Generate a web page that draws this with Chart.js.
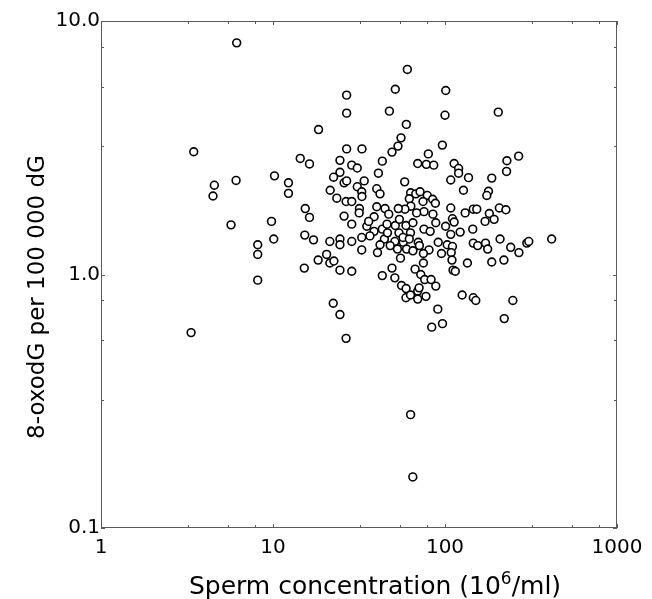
<!DOCTYPE html>
<html>
<head>
<meta charset="utf-8">
<script src="https://cdn.jsdelivr.net/npm/chart.js@4.4.1/dist/chart.umd.min.js"></script>
<style>
  body { margin: 0; background: #fff; }
  canvas { display: block; }
</style>
</head>
<body>
<canvas id="scatter" width="652" height="599"></canvas>
<script>
// sperm concentration (10^6/ml)
const spermConc = [
  6.15, 3.46, 4.56, 4.48, 6.1, 10.2, 12.3, 12.3, 5.7, 9.8,
  10.1, 8.15, 8.15, 8.15, 3.34, 60.4, 26.8, 51.4, 101, 26.8,
  47.5, 100, 59.6, 18.4, 55.5, 53.3, 49.2, 26.8, 32.9, 96.5,
  14.4, 16.3, 24.5, 28.7, 30.9, 24.5, 22.5, 25.9, 26.8, 33.9,
  21.5, 23.5, 26.6, 28.7, 30.9, 32.8, 32.9, 41.0, 43.2, 40.1,
  41.9, 15.4, 16.3, 58.3, 69.4, 80.0, 77.9, 86.0, 63.1, 67.6,
  71.6, 78.9, 62.0, 84.8, 74.5, 87.9, 63.3, 58.5, 75.5, 85.1,
  108, 113, 120, 120, 108, 128, 137, 131, 44.8, 47.1,
  53.5, 40.1, 31.8, 31.7, 25.9, 38.7, 15.3, 17.2, 21.4, 24.5,
  24.5, 28.7, 32.8, 32.8, 20.5, 18.3, 21.4, 22.6, 15.2, 24.5,
  28.7, 28.7, 35.1, 38.7, 43.2, 44.4, 41.9, 40.5, 51.4, 54.0,
  59.3, 65.1, 63.0, 51.1, 52.9, 57.2, 59.8, 65.1, 55.1, 69.9,
  75.5, 88.4, 80.7, 74.9, 74.9, 91.3, 100.8, 110.5, 113, 108,
  103, 110.5, 108.7, 109.8, 95.4, 111.4, 114.8, 122.5, 135, 49.2,
  43.2, 51.1, 55.9, 59.4, 59.3, 63.0, 69.4, 69.4, 77.5, 67.0,
  72.3, 76.2, 83.0, 88.4, 70.7, 90.8, 83.7, 96.7, 125.8, 22.4,
  24.5, 26.6, 63.1, 65, 204, 268, 229, 228, 187, 179,
  175, 146, 153, 181, 207, 226, 171, 193, 145, 146,
  155, 172, 177, 209, 241, 269, 299, 307, 417, 187,
  220, 146, 151, 248, 221, 36.6, 46.3, 68.4, 54.3, 36.0,
  46.0, 57.0, 71.0, 82.0, 48.0, 62.0
];

// 8-oxodG per 100 000 dG
const oxodG = [
  8.2, 3.05, 2.25, 2.04, 2.35, 2.45, 2.30, 2.09, 1.57, 1.62,
  1.38, 1.31, 1.20, 0.95, 0.59, 6.44, 5.10, 5.38, 5.32, 4.33,
  4.41, 4.25, 3.91, 3.73, 3.46, 3.21, 3.04, 3.13, 3.13, 3.24,
  2.87, 2.73, 2.82, 2.70, 2.63, 2.53, 2.42, 2.30, 2.34, 2.34,
  2.15, 2.00, 1.94, 1.94, 2.22, 2.12, 2.03, 2.51, 2.80, 2.18,
  2.08, 1.82, 1.68, 2.32, 2.74, 2.99, 2.72, 2.70, 2.10, 2.08,
  2.12, 2.05, 1.99, 1.98, 1.94, 1.91, 1.86, 1.81, 1.77, 1.73,
  1.83, 2.74, 2.62, 2.51, 2.36, 2.15, 2.41, 1.75, 1.82, 1.73,
  1.82, 1.85, 1.82, 1.75, 1.70, 1.69, 1.43, 1.37, 1.35, 1.38,
  1.31, 1.35, 1.40, 1.25, 1.20, 1.14, 1.11, 1.13, 1.06, 1.04,
  1.03, 1.58, 1.55, 1.48, 1.51, 1.38, 1.31, 1.22, 1.56, 1.46,
  1.56, 1.60, 1.46, 1.35, 1.26, 1.34, 1.26, 1.24, 1.16, 1.34,
  1.51, 1.60, 1.25, 1.21, 1.11, 1.34, 1.55, 1.66, 1.61, 1.44,
  1.31, 1.29, 1.22, 1.14, 1.21, 1.04, 1.03, 1.47, 1.11, 1.06,
  0.99, 0.97, 0.905, 0.88, 0.81, 0.83, 0.86, 0.80, 0.82, 1.05,
  1.00, 0.955, 0.955, 0.90, 0.886, 0.73, 0.62, 0.64, 0.83, 0.77,
  0.695, 0.56, 0.28, 0.159, 4.37, 2.93, 2.81, 2.55, 2.40, 2.13,
  2.05, 1.81, 1.81, 1.74, 1.83, 1.80, 1.62, 1.65, 1.51, 1.33,
  1.30, 1.33, 1.26, 1.38, 1.28, 1.22, 1.33, 1.35, 1.38, 1.12,
  1.14, 0.81, 0.79, 0.79, 0.67, 1.42, 1.46, 1.75, 1.65, 1.62,
  1.58, 1.40, 1.30, 1.48, 1.30, 1.38
];

const xTicks = [1, 10, 100, 1000];
const xTickLabels = ["1", "10", "100", "1000"];
const yTicks = [0.1, 1, 10];
const yTickLabels = ["0.1", "1.0", "10.0"];
const minorSteps = [3.2, 5.5, 7.9];

const xTitleParts = ["Sperm concentration (10", "6", "/ml)"];
const yTitle = "8-oxodG per 100 000 dG";

const points = spermConc.map((x, i) => ({ x: x, y: oxodG[i] }));
const FONT = "'DejaVu Sans', sans-serif";
const AXIS_COLOR = "#5a5a5a";

// frame, inward ticks and axis titles
const framePlugin = {
  id: "frame",
  afterDraw(chart) {
    const { ctx, chartArea: a, scales } = chart;
    const xs = scales.x, ys = scales.y;
    ctx.save();
    ctx.strokeStyle = AXIS_COLOR;
    ctx.lineWidth = 1;
    ctx.strokeRect(a.left + 0.5, a.top + 0.5, a.right - a.left - 1, a.bottom - a.top - 1);

    const tick = (x1, y1, x2, y2) => {
      ctx.beginPath();
      ctx.moveTo(x1, y1);
      ctx.lineTo(x2, y2);
      ctx.stroke();
    };
    const allX = [], allY = [];
    [1, 10, 100].forEach(d => { allX.push([d, 4]); minorSteps.forEach(m => allX.push([d * m, 3])); });
    allX.push([1000, 4]);
    [0.1, 1].forEach(d => { allY.push([d, 4]); minorSteps.forEach(m => allY.push([d * m, 3])); });
    allY.push([10, 4]);

    allX.forEach(([v, len]) => {
      const px = Math.round(xs.getPixelForValue(v)) + 0.5;
      tick(px, a.bottom, px, a.bottom - len);
      tick(px, a.top, px, a.top + len);
    });
    allY.forEach(([v, len]) => {
      const py = Math.round(ys.getPixelForValue(v)) + 0.5;
      tick(a.left, py, a.left + len, py);
      tick(a.right, py, a.right - len, py);
    });

    // x title with superscript
    ctx.fillStyle = "#000";
    ctx.textBaseline = "alphabetic";
    ctx.textAlign = "left";
    const bigFont = "25px " + FONT, supFont = "17px " + FONT;
    ctx.font = bigFont;
    const w1 = ctx.measureText(xTitleParts[0]).width;
    const w3 = ctx.measureText(xTitleParts[2]).width;
    ctx.font = supFont;
    const w2 = ctx.measureText(xTitleParts[1]).width;
    let tx = 375 - (w1 + w2 + w3) / 2;
    const base = 594;
    ctx.font = bigFont;
    ctx.fillText(xTitleParts[0], tx, base);
    tx += w1;
    ctx.font = supFont;
    ctx.fillText(xTitleParts[1], tx, base - 10);
    tx += w2;
    ctx.font = bigFont;
    ctx.fillText(xTitleParts[2], tx, base);

    // y title
    ctx.textAlign = "center";
    ctx.textBaseline = "middle";
    ctx.translate(38, 297);
    ctx.rotate(-Math.PI / 2);
    ctx.font = "23px " + FONT;
    ctx.fillText(yTitle, 0, 0);
    ctx.restore();
  }
};

new Chart(document.getElementById("scatter").getContext("2d"), {
  type: "scatter",
  data: {
    datasets: [
      {
        label: "8-oxodG",
        data: points,
        pointRadius: 3.9,
        pointBorderWidth: 1.6,
        pointBackgroundColor: "#ffffff",
        pointBorderColor: "#000000",
      },
    ],
  },
  options: {
    responsive: false,
    animation: false,
    layout: { padding: { top: 21, right: 35, left: 0, bottom: 0 } },
    plugins: {
      legend: { display: false },
      tooltip: { enabled: false },
    },
    scales: {
      x: {
        type: "logarithmic",
        min: 1,
        max: 1000,
        afterFit: (s) => { s.height = 71; },
        afterBuildTicks: (s) => { s.ticks = xTicks.map(v => ({ value: v })); },
        ticks: {
          autoSkip: false,
          maxRotation: 0,
          padding: 8,
          color: "#000",
          font: { family: FONT, size: 20 },
          callback: (v) => xTickLabels[xTicks.indexOf(v)],
        },
        grid: { display: false, drawTicks: false },
        border: { display: false },
      },
      y: {
        type: "logarithmic",
        min: 0.1,
        max: 10,
        afterFit: (s) => { s.width = 101; },
        afterBuildTicks: (s) => { s.ticks = yTicks.map(v => ({ value: v })); },
        ticks: {
          autoSkip: false,
          padding: 1,
          color: "#000",
          font: { family: FONT, size: 20 },
          callback: (v) => yTickLabels[yTicks.indexOf(v)],
        },
        grid: { display: false, drawTicks: false },
        border: { display: false },
      },
    },
  },
  plugins: [framePlugin],
});
</script>
</body>
</html>
